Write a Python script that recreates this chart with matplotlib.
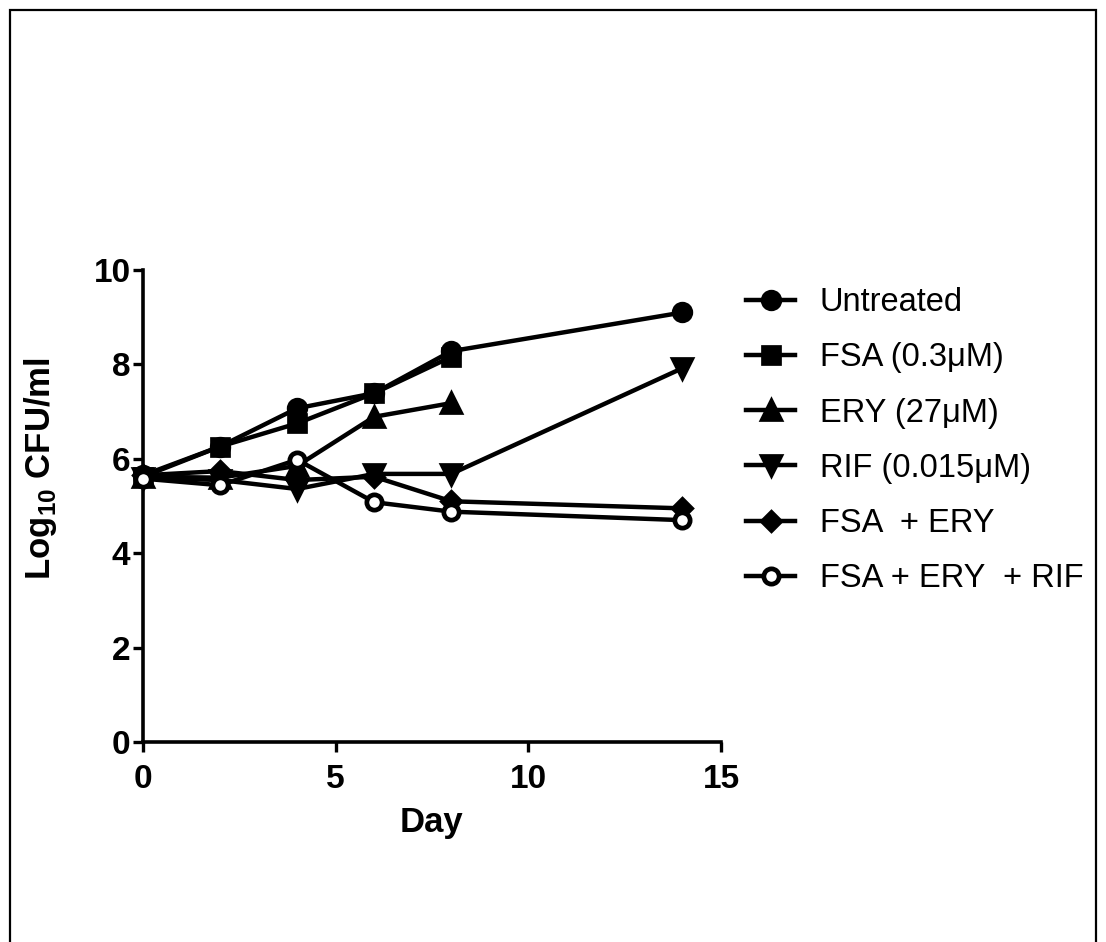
"""time-kill curves, log10 cfu/ml over 14 days for single drugs and combinations"""
import matplotlib

matplotlib.use("Agg")
import matplotlib.pyplot as plt  # noqa: E402
from matplotlib.patches import Rectangle  # noqa: E402

FONT = ["Liberation Sans", "DejaVu Sans"]
plt.rcParams["font.family"] = FONT
plt.rcParams["mathtext.fontset"] = "custom"
plt.rcParams["mathtext.bf"] = "Liberation Sans:bold"
plt.rcParams["mathtext.rm"] = "Liberation Sans:bold"

DAYS_LONG = [0, 2, 4, 6, 8, 14]
DAYS_SHORT = [0, 2, 4, 6, 8]
UNTREATED = [5.65, 6.26, 7.07, 7.39, 8.28, 9.10]
FSA = [5.62, 6.26, 6.75, 7.39, 8.16]
ERY = [5.62, 5.60, 5.85, 6.89, 7.18]
RIF = [5.60, 5.55, 5.36, 5.68, 5.68, 7.92]
FSA_ERY = [5.65, 5.74, 5.55, 5.62, 5.10, 4.95]
FSA_ERY_RIF = [5.58, 5.44, 5.98, 5.08, 4.88, 4.70]

LABELS = ["Untreated", "FSA (0.3\u03bcM)", "ERY (27\u03bcM)", "RIF (0.015\u03bcM)",
          "FSA  + ERY", "FSA + ERY  + RIF"]
X_TICKS = [0, 5, 10, 15]
Y_TICKS = [0, 2, 4, 6, 8, 10]

fig = plt.figure(figsize=(11.06, 9.42), dpi=100)
ax = fig.add_axes([143 / 1106, 1 - 742 / 942, 578 / 1106, 472 / 942])

series = [
    (DAYS_LONG, UNTREATED, "o", "k", 12),
    (DAYS_SHORT, FSA, "s", "k", 11.5),
    (DAYS_SHORT, ERY, "^", "k", 12.5),
    (DAYS_LONG, RIF, "v", "k", 12.5),
    (DAYS_LONG, FSA_ERY, "D", "k", 9.5),
    (DAYS_LONG, FSA_ERY_RIF, "o", "white", 11),
]
for (x, y, m, fc, ms), lab in zip(series, LABELS):
    ax.plot(x, y, color="k", lw=3.2, marker=m, ms=ms, mfc=fc, mec="k", mew=3.4,
            label=lab, clip_on=False, zorder=3)

ax.set_xlim(0, 15)
ax.set_ylim(0, 10)
ax.set_xticks(X_TICKS)
ax.set_yticks(Y_TICKS)
for s in ("top", "right"):
    ax.spines[s].set_visible(False)
for s in ("left", "bottom"):
    ax.spines[s].set_linewidth(2.6)
ax.tick_params(direction="out", length=7, width=2.4, labelsize=24)
ax.tick_params(axis="x", pad=9)
ax.tick_params(axis="y", pad=2)
for t in ax.get_xticklabels() + ax.get_yticklabels():
    t.set_fontweight("bold")

ax.set_xlabel("Day", fontsize=25, fontweight="bold")
ax.xaxis.set_label_coords(0.5, -0.135)
ax.set_ylabel(r"Log$_{10}$ CFU/ml", fontsize=25, fontweight="bold")
ax.yaxis.set_label_coords(-0.145, 0.58)

ax.legend(loc="upper left", bbox_to_anchor=(730 / 1106, 1 - 271 / 942),
          bbox_transform=fig.transFigure, frameon=False, fontsize=23.5,
          handlelength=1.5, handletextpad=0.75, labelspacing=0.74, borderpad=0)

# outer frame, bottom edge runs off the canvas
fig.patches.append(Rectangle((10 / 1106, -0.05), 1086 / 1106, 1.05 - 10 / 942,
                             transform=fig.transFigure, fill=False, lw=1.6,
                             ec="k"))

fig.savefig("out.png", dpi=100)
